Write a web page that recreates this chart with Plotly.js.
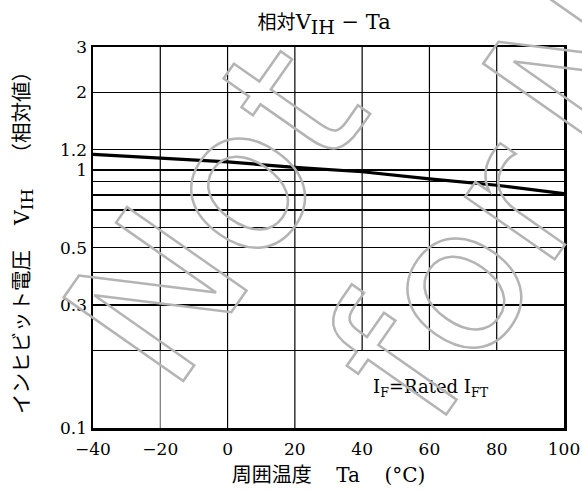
<!DOCTYPE html>
<html>
<head>
<meta charset="utf-8">
<script src="https://cdn.plot.ly/plotly-3.0.1.min.js"></script>
<style>
html,body{margin:0;padding:0;background:#fff;overflow:hidden}
#wrap{position:relative;width:582px;height:491px;overflow:hidden}
#chart{width:582px;height:491px}
.wm{position:absolute;font-family:"DejaVu Sans",sans-serif;font-size:200px;line-height:1;color:transparent;-webkit-text-stroke:2.5px #b4b4b4;white-space:nowrap;pointer-events:none;transform:translate(-50%,-50%) rotate(-55deg)}
</style>
</head>
<body>
<div id="wrap">
<div id="chart"></div>
<div class="wm" style="left:216px;top:214px">Not</div>
<div class="wm" style="left:456px;top:280px">for</div>
<div class="wm" style="left:660px;top:-55px">New</div>
</div>
<script>
// Data
const temps = [-40, -20, 0, 20, 40, 60, 80, 100];
const vihRel = [1.15, 1.115, 1.075, 1.025, 0.985, 0.925, 0.873, 0.81];
const xTicks = [-40, -20, 0, 20, 40, 60, 80, 100];
const yGrid = [0.1, 0.2, 0.3, 0.4, 0.5, 0.6, 0.7, 0.8, 0.9, 1, 1.2, 2, 3];
const yTickText = ['0.1', '', '0.3', '', '0.5', '', '', '', '', '1', '1.2', '2', '3'];
const xGridFull = [-20, 0, 20];
const xGridPartial = [40, 60, 80];
const yMin = 0.1, yMax = 3, partialBottom = 0.2;

const serif = '"DejaVu Serif", "Noto Sans CJK JP", serif';
const jp = '"Noto Sans CJK JP", "DejaVu Serif", sans-serif';
const sv = function (t) { return '<span style="font-family:DejaVu Serif">' + t + '</span>'; };
const bigSub = function (t, px) { return '<sub><span style="font-size:' + px + 'px">' + t + '</span></sub>'; };

const shapes = [];
xGridFull.forEach(function (v) {
  // lower part (below 0.2) of the -20 line is printed lighter
  shapes.push({type: 'line', xref: 'x', yref: 'y', x0: v, x1: v, y0: yMin, y1: partialBottom,
    line: {color: v === -20 ? '#777' : '#000', width: 1.2}, layer: 'below'});
  shapes.push({type: 'line', xref: 'x', yref: 'y', x0: v, x1: v, y0: partialBottom, y1: yMax,
    line: {color: '#000', width: 1.2}, layer: 'below'});
});
xGridPartial.forEach(function (v) {
  shapes.push({type: 'line', xref: 'x', yref: 'y', x0: v, x1: v, y0: partialBottom, y1: yMax,
    line: {color: '#000', width: 1.2}, layer: 'below'});
});

const trace = {
  x: temps, y: vihRel, type: 'scatter', mode: 'lines',
  line: {color: '#000', width: 3.2}, hoverinfo: 'skip', showlegend: false
};

const layout = {
  width: 582, height: 491,
  margin: {l: 92.5, r: 18, t: 47, b: 63},
  paper_bgcolor: '#fff', plot_bgcolor: '#fff',
  font: {family: serif, color: '#000', size: 17},
  title: {text: '<span style="font-family:Noto Sans CJK JP;font-size:19px">相対</span>V' + bigSub('IH', 19) + ' − Ta',
    font: {family: serif, size: 21, color: '#000'},
    x: 0.557, xref: 'container', xanchor: 'center', y: 0.955, yref: 'container', yanchor: 'middle'},
  xaxis: {
    range: [-40, 100], tickmode: 'array', tickvals: xTicks,
    showgrid: false, zeroline: false, showline: true, mirror: true,
    linecolor: '#000', linewidth: 2.5, ticks: 'outside', ticklen: 4, tickcolor: 'rgba(0,0,0,0)',
    tickfont: {family: serif, size: 17, color: '#000'},
    title: {text: '周囲温度　 ' + sv('Ta') + '　 ' + sv('(°C)'), font: {family: jp, size: 20, color: '#000'}, standoff: 10}
  },
  yaxis: {
    type: 'log', range: [Math.log10(yMin), Math.log10(yMax)], tickmode: 'array',
    tickvals: yGrid, ticktext: yTickText,
    showgrid: true, gridcolor: '#000', gridwidth: 1.2, zeroline: false,
    showline: true, mirror: true, linecolor: '#000', linewidth: 2.5, ticks: '',
    tickfont: {family: serif, size: 17, color: '#000'},
    title: {text: 'インヒビット電圧　 ' + sv('V' + bigSub('IH', 17)) + '　 （相対値）', font: {family: jp, size: 20.5, color: '#000'}, standoff: 25}
  },
  shapes: shapes,
  annotations: [{
    text: 'I<sub>F</sub>=Rated I<sub>FT</sub>', xref: 'x', yref: 'y',
    x: 60.5, y: Math.log10(0.143), showarrow: false,
    font: {family: serif, size: 18, color: '#000'}
  }]
};

Plotly.newPlot('chart', [trace], layout, {displayModeBar: false, staticPlot: true});
</script>
</body>
</html>
